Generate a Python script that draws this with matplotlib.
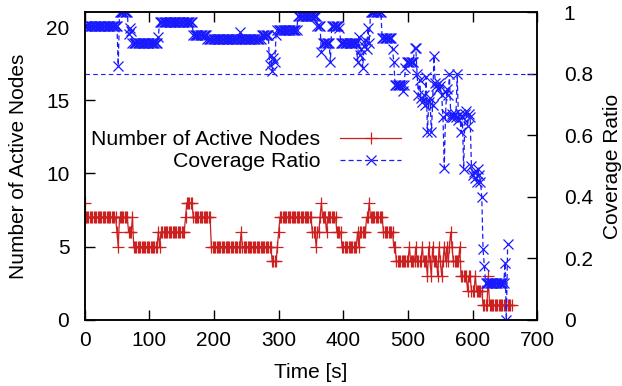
import numpy as np
import matplotlib
matplotlib.use("Agg")
import matplotlib.pyplot as plt

plt.rcParams['font.family'] = ['Liberation Sans', 'DejaVu Sans']
plt.rcParams['font.size'] = 15

# sample spacing of the trace (s)
dt = 2

# active nodes, run-length encoded: (value, number of samples)
nodes_runs = [
    (8, 1), (7, 24), (6, 1), (5, 1), (7, 7), (6, 3), (7, 1), (5, 19), (6, 1), (5, 1),
    (6, 19), (7, 1), (8, 5), (7, 14), (5, 23), (6, 1), (5, 23), (4, 4), (5, 1), (6, 1),
    (7, 25), (6, 3), (5, 1), (6, 2), (7, 1), (8, 1), (7, 3), (6, 1), (7, 7), (6, 4),
    (5, 12), (6, 1), (5, 1), (6, 5), (7, 2), (8, 1), (7, 10), (6, 8), (5, 2), (4, 10),
    (5, 1), (4, 4), (5, 1), (4, 4), (5, 1), (4, 3), (3, 1), (5, 1), (4, 1), (3, 1),
    (5, 1), (4, 3), (3, 1), (5, 1), (4, 1), (3, 1), (4, 1), (5, 1), (4, 1), (5, 1),
    (4, 1), (5, 1), (6, 1), (5, 1), (4, 5), (5, 1), (3, 5), (2, 1), (3, 2), (2, 3),
    (3, 1), (2, 5), (1, 4), (3, 1), (1, 18),
]

# coverage ratio, run-length encoded: (value, number of samples)
coverage_runs = [
    (0.957, 26), (0.827, 1), (1.0, 7), (0.93, 1), (0.95, 1), (0.94, 1), (0.90, 20),
    (0.92, 1), (0.97, 26), (0.927, 11), (0.913, 25), (0.935, 1), (0.913, 16), (0.927, 6),
    (0.83, 1), (0.86, 1), (0.81, 1), (0.85, 1), (0.84, 1), (0.927, 1), (0.944, 16),
    (0.989, 15), (0.957, 3), (0.87, 1), (0.90, 6), (0.84, 1), (0.957, 6), (0.95, 1),
    (0.90, 13), (0.84, 1), (0.92, 1), (0.86, 1), (0.88, 1), (0.82, 1), (0.89, 1),
    (0.91, 1), (0.88, 1), (0.95, 1), (0.90, 1), (1.0, 9), (0.917, 8), (0.88, 1),
    (0.84, 1), (0.765, 6), (0.745, 1), (0.765, 1), (0.82, 1), (0.84, 6), (0.884, 2),
    (0.80, 1), (0.73, 1), (0.78, 1), (0.72, 1), (0.71, 1), (0.73, 1), (0.70, 1),
    (0.79, 1), (0.61, 1), (0.71, 1), (0.72, 1), (0.61, 1), (0.70, 1), (0.857, 1),
    (0.77, 1), (0.76, 1), (0.75, 1), (0.77, 1), (0.76, 1), (0.73, 1), (0.66, 1),
    (0.495, 1), (0.67, 1), (0.75, 1), (0.73, 1), (0.80, 1), (0.66, 1), (0.67, 1),
    (0.66, 1), (0.67, 1), (0.66, 1), (0.80, 1), (0.65, 1), (0.67, 1), (0.61, 1),
    (0.66, 1), (0.49, 1), (0.67, 1), (0.68, 1), (0.63, 1), (0.67, 1), (0.66, 1),
    (0.50, 1), (0.47, 1), (0.48, 1), (0.46, 1), (0.45, 1), (0.49, 1), (0.47, 1),
    (0.45, 1), (0.40, 1), (0.23, 1), (0.175, 1), (0.119, 15), (0.186, 1), (0.0, 1),
    (0.246, 1),
]

coverage_target = 0.8


def expand(runs):
    vals = [v for v, n in runs]
    counts = [n for v, n in runs]
    y = np.repeat(vals, counts)
    return np.arange(len(y)) * dt, y


t_nodes, nodes = expand(nodes_runs)
t_cov, coverage = expand(coverage_runs)

red = '#cc1f1f'
blue = '#1a1aff'

fig = plt.figure(figsize=(6.22, 3.86), dpi=100)
ax = fig.add_axes([0.136, 0.171, 0.728, 0.797])
ax2 = ax.twinx()

l1, = ax.plot(t_nodes, nodes, color=red, lw=0.9, marker='+', ms=8, mew=0.9,
              label='Number of Active Nodes')
l2, = ax2.plot(t_cov, coverage, color=blue, lw=0.9, ls=(0, (4, 2.5)), marker='x',
               ms=7, mew=0.9, label='Coverage Ratio')
ax2.axhline(coverage_target, color=blue, lw=0.8, ls=(0, (4, 3)))

ax.set_xlim(0, 700)
ax.set_ylim(0, 21)
ax2.set_ylim(0, 1)
ax.set_xticks(range(0, 701, 100))
ax.set_yticks([0, 5, 10, 15, 20])
ax2.set_yticks([0, 0.2, 0.4, 0.6, 0.8, 1])
ax2.set_yticklabels(['0', '0.2', '0.4', '0.6', '0.8', '1'])

ax.tick_params(axis='x', direction='in', length=7, width=1, top=True, pad=8)
ax.tick_params(axis='y', direction='in', length=7, width=1, pad=11)
ax2.tick_params(axis='y', direction='in', length=7, width=1, pad=19)
for a in (ax, ax2):
    for s in a.spines.values():
        s.set_linewidth(1.1)

ax.set_xlabel('Time [s]', labelpad=9)
ax.set_ylabel('Number of Active Nodes', labelpad=13)
ax2.set_ylabel('Coverage Ratio', labelpad=7)

fig.legend(handles=[l1, l2], loc='upper left', bbox_to_anchor=(0.13, 0.69),
           frameon=False, markerfirst=False, handlelength=2.9, labelspacing=0.15,
           handletextpad=0.9, borderpad=0, fontsize=15.3)

fig.savefig('out.png', dpi=100)
